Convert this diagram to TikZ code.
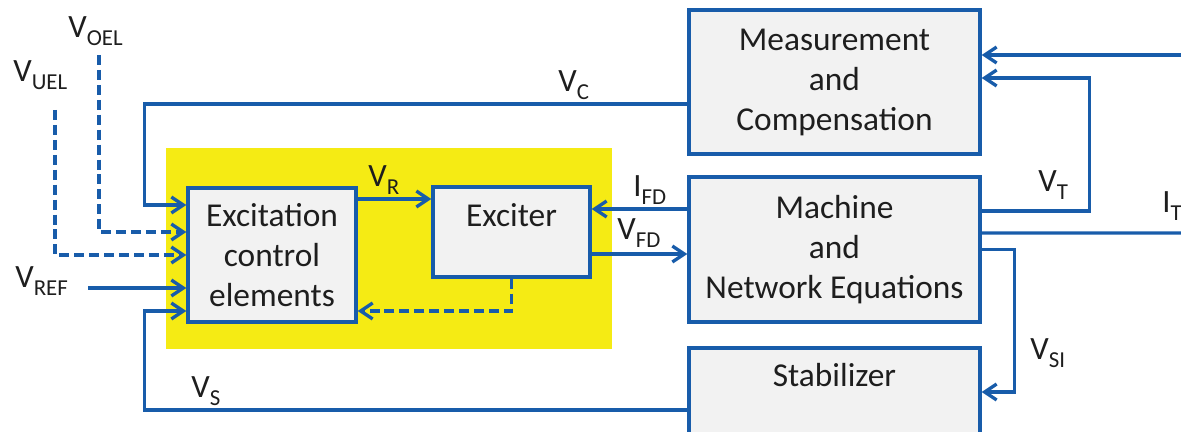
\documentclass[tikz,border=0pt]{standalone}
\usepackage{fontspec}
\setmainfont{Carlito}
\usetikzlibrary{positioning, arrows.meta}
\definecolor{lineblue}{RGB}{24,92,170}
\definecolor{boxgray}{RGB}{242,242,242}
\definecolor{hilite}{RGB}{245,235,20}
\definecolor{inkgray}{RGB}{30,30,30}
\newcommand{\sig}[2]{#1\raisebox{-4.5pt}{\fontsize{13}{14}\selectfont #2}}

\begin{document}
\begin{tikzpicture}[x=0.02cm, y=-0.02cm,
  blk/.style={draw=lineblue, line width=1.9pt, fill=boxgray, align=center, text=inkgray, font=\fontsize{19}{22.8}\selectfont, inner sep=0pt},
  txt/.style={text=inkgray, font=\fontsize{19}{22.8}\selectfont, inner sep=0pt},
  lbl/.style={text=inkgray, font=\fontsize{18.5}{20}\selectfont, inner sep=0pt, anchor=base west},
  lin/.style={draw=lineblue, line width=1.9pt},
  arr/.style={lin, -{Straight Barb[length=2.4mm, width=3.2mm, line width=1.9pt]}},
  darr/.style={arr, dash pattern=on 5.7pt off 2.8pt}
]
  \clip (0,0) rectangle (1181,432);
  \fill[hilite] (166,148) rectangle (612,349);

  % blocks
  \node[blk, minimum width=3.36cm, minimum height=2.68cm] (ece) at (272,255) {Excitation\\control\\elements};
  \node[blk, minimum width=3.14cm, minimum height=1.8cm] (exc) at (511.5,232) {};
  \node[txt] (exctxt) at (511.5,215) {Exciter};
  \node[blk, minimum width=5.82cm, minimum height=2.88cm, text depth=0.08cm] (meas) at (834.5,82) {Measurement\\and\\Compensation};
  \node[blk, minimum width=5.82cm, minimum height=2.9cm, text depth=0.1cm] (mach) at (834.5,249.5) {Machine\\and\\Network Equations};
  \node[blk, minimum width=5.82cm, minimum height=2.4cm] (stab) at (834.5,408) {};
  \node[txt] (stabtxt) at (834.5,375) {Stabilizer};

  % free ends
  \coordinate (oel) at (99,55);
  \coordinate (uel) at (55,110);
  \coordinate (ref) at (88,288);
  \coordinate (itin) at (1181,55);
  \coordinate (itout) at (1181,233);

  % connectors
  \draw[arr] ([yshift=-0.44cm]meas.west) -| ([xshift=-0.84cm, yshift=1cm]ece.west) -- ([yshift=1cm]ece.west);
  \draw[darr] (oel) |- ([yshift=0.46cm]ece.west);
  \draw[darr] (uel) |- (ece.west);
  \draw[arr] (ref) -- (ref -| ece.west);
  \draw[arr] ([yshift=-0.04cm]stab.west) -| ([xshift=-0.84cm, yshift=-1.12cm]ece.west) -- ([yshift=-1.12cm]ece.west);
  \draw[arr] ([yshift=1.12cm]ece.east) -- ([yshift=1.12cm]ece.east -| exc.west);
  \draw[darr] (exc.south) |- ([yshift=-1.12cm]ece.east);
  \draw[arr] ([yshift=0.81cm]mach.west) -- ([yshift=0.81cm]mach.west -| exc.east);
  \draw[arr] ([yshift=-0.44cm]exc.east) -- ([yshift=-0.44cm]exc.east -| mach.west);
  \draw[arr] (itin) -- (itin -| meas.east);
  \draw[arr] ([yshift=0.77cm]mach.east) -| ([xshift=2.16cm, yshift=0.08cm]meas.east) -- ([yshift=0.08cm]meas.east);
  \draw[lin] ([yshift=0.33cm]mach.east) -- (itout);
  \draw[arr] (mach.east) -| ([xshift=0.66cm, yshift=0.32cm]stab.east) -- ([yshift=0.32cm]stab.east);

  % signal labels
  \node[lbl] (voel) at (68,38) {\sig{V}{OEL}};
  \node[lbl] (vuel) at (13,82) {\sig{V}{UEL}};
  \node[lbl] (vref) at (15,288) {\sig{V}{REF}};
  \node[lbl] (vs) at (191,398) {\sig{V}{S}};
  \node[lbl] (vc) at (558,92) {\sig{V}{C}};
  \node[lbl] (vr) at (368,187) {\sig{V}{R}};
  \node[lbl] (ifd) at (633,197) {\sig{I}{FD}};
  \node[lbl] (vfd) at (617,240) {\sig{V}{FD}};
  \node[lbl] (vt) at (1038,192) {\sig{V}{T}};
  \node[lbl] (it) at (1162,213) {\sig{I}{T}};
  \node[lbl] (vsi) at (1030,360) {\sig{V}{SI}};
\end{tikzpicture}
\end{document}
